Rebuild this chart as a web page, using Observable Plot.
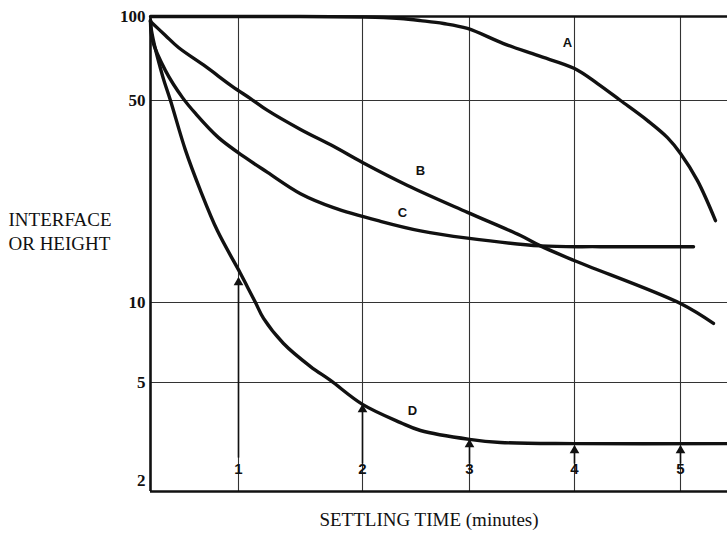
<!DOCTYPE html>
<html><head><meta charset="utf-8">
<script src="https://cdn.jsdelivr.net/npm/d3@7"></script>
<script src="https://cdn.jsdelivr.net/npm/@observablehq/plot@0.6"></script>
<style>body{margin:0;background:#fff}#chart svg{display:block}</style>
</head><body><div id="chart"></div>
<script>
// Settling time (minutes) and interface height for the four curves
const timeA   = [0, 1.5, 1.984, 2.196, 2.355, 2.542, 2.757, 2.981, 3.324, 3.648, 4, 4.217, 4.434, 4.689, 4.877, 5, 5.16, 5.33];
const heightA = [100, 100, 99.6, 99.2, 98.4, 96.7, 94.4, 90.6, 80.0, 72.5, 65.1, 57.5, 50, 42.6, 37.2, 32.8, 26.4, 19.2];

const timeB   = [0, 0.17, 0.318, 0.625, 0.932, 1.097, 1.234, 1.5, 1.766, 2, 2.421, 2.981, 3.486, 3.676, 3.99, 5, 5.311];
const heightB = [96, 85.5, 77.4, 66.2, 56.1, 50.8, 46.2, 39.7, 34.7, 30.5, 25.4, 20.5, 17.05, 15.7, 14.0, 9.91, 8.34];

const timeC   = [0, 0.023, 0.17, 0.364, 0.511, 0.773, 1.056, 1.234, 1.5, 1.766, 2.168, 2.542, 2.981, 3.676, 4.245, 5.123];
const heightC = [97, 82.0, 64.0, 51.2, 45.1, 37.2, 31.7, 28.2, 23.8, 21.3, 19.1, 17.7, 16.7, 15.7, 15.6, 15.6];

const timeD   = [0, 0.011, 0.136, 0.227, 0.398, 0.568, 0.761, 1.016, 1.073, 1.137, 1.202, 1.363, 1.581, 1.742, 2, 2.355, 2.542, 3, 3.295, 4, 5.443];
const heightD = [97, 89.1, 61.4, 50, 33.6, 24.4, 17.7, 12.6, 11.3, 10, 8.71, 7.01, 5.74, 5.09, 4.16, 3.57, 3.34, 3.10, 3.02, 2.99, 2.99];

const curveNames   = ["A", "B", "C", "D"];
const labelTimes   = [3.933, 2.542, 2.374, 2.467];
const labelHeights = [80.7, 28.6, 20.5, 3.95];

const gridTimes    = [1, 2, 3, 4, 5];
const gridHeights  = [5, 10, 50];
const frameHeights = [100, 2];
const yTickLabels  = [100, 50, 10, 5];
const yBottomLabel = [2];

const arrowTimes = [1, 2, 3, 4, 5];
const arrowBase  = [2.66, 2.53, 2.53, 2.53, 2.53];
const arrowTip   = [12.1, 4.12, 3.07, 2.92, 2.92];

const series = [];
[[timeA, heightA], [timeB, heightB], [timeC, heightC], [timeD, heightD]].forEach(([t, h], k) => {
  t.forEach((v, i) => series.push({curve: curveNames[k], time: v, height: h[i]}));
});
const labels = curveNames.map((n, i) => ({name: n, time: labelTimes[i], height: labelHeights[i]}));
const arrows = arrowTimes.map((t, i) => ({time: t, base: arrowBase[i], tip: arrowTip[i]}));

const serif = "Liberation Serif, Times New Roman, serif";
const sans = "Liberation Sans, Arial, sans-serif";

const chart = Plot.plot({
  width: 727,
  height: 542,
  marginTop: 16,
  marginBottom: 51,
  marginLeft: 150,
  marginRight: 0,
  style: {background: "#fff", color: "#111"},
  x: {type: "linear", domain: [0, 1, 2, 3, 4, 5], range: [150, 238, 362, 469, 574, 680], axis: null},
  y: {type: "log", domain: [2, 5, 10, 50, 100], range: [491, 382, 302, 100, 16], axis: null},
  marks: [
    Plot.ruleX(gridTimes, {stroke: "#333", strokeWidth: 1.1}),
    Plot.ruleY(gridHeights, {stroke: "#333", strokeWidth: 1.1}),
    Plot.ruleY(frameHeights, {stroke: "#111", strokeWidth: 2.6}),
    Plot.ruleX([0], {stroke: "#111", strokeWidth: 2.6}),
    Plot.line(series, {x: "time", y: "height", z: "curve", curve: "catmull-rom", stroke: "#111", strokeWidth: 3.4, strokeLinejoin: "round", strokeLinecap: "round"}),
    Plot.link(arrows, {x1: "time", x2: "time", y1: "base", y2: "tip", stroke: "#111", strokeWidth: 1.6}),
    Plot.dot(arrows, {x: "time", y: "tip", symbol: "triangle", r: 3.6, fill: "#111", stroke: "none", dy: 4}),
    Plot.text(arrowTimes, {x: d => d, text: d => String(d), frameAnchor: "bottom", dy: -18, fontSize: 15, fontWeight: "bold", fontFamily: sans, fill: "#111"}),
    Plot.text(labels, {x: "time", y: "height", text: "name", fontSize: 13, fontWeight: "bold", fontFamily: sans, fill: "#111"}),
    Plot.text(yTickLabels, {x: () => 0, y: d => d, text: d => String(d), textAnchor: "end", dx: -5, fontSize: 17, fontWeight: "bold", fontFamily: serif, fill: "#111"}),
    Plot.text(yBottomLabel, {x: () => 0, y: d => d, text: d => String(d), textAnchor: "end", dx: -5, dy: -11, fontSize: 17, fontWeight: "bold", fontFamily: serif, fill: "#111"}),
    Plot.text(["INTERFACE\nOR HEIGHT"], {frameAnchor: "left", textAnchor: "start", dx: -142, dy: -24, lineHeight: 1.27, fontSize: 19, fontFamily: serif, fill: "#111"}),
    Plot.text(["SETTLING TIME (minutes)"], {frameAnchor: "bottom", dx: -10, dy: 34, fontSize: 19, fontFamily: serif, fill: "#111"})
  ]
});
document.getElementById("chart").appendChild(chart);
</script>
</body></html>
